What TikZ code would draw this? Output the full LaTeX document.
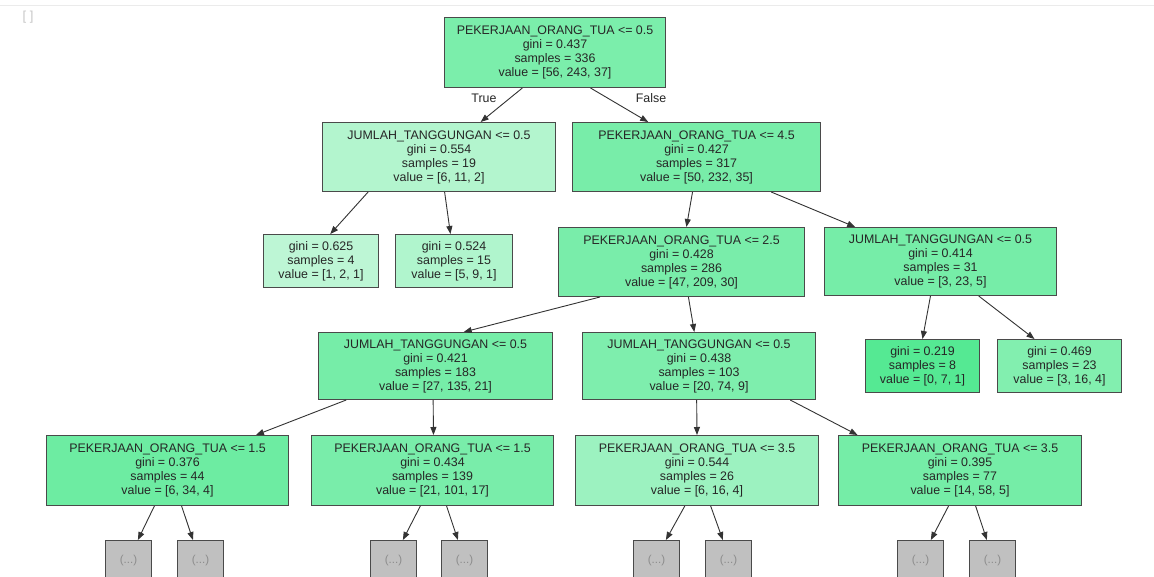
\documentclass[tikz,border=0pt]{standalone}
\usepackage{fontspec}
\setmainfont{Liberation Sans}
\usetikzlibrary{calc,arrows.meta}

% fill colours of the split nodes (class shade by purity)
\definecolor{nroot}{HTML}{7BEEAB}
\definecolor{nja}{HTML}{B3F5CE}
\definecolor{npb}{HTML}{78EDA9}
\definecolor{nla}{HTML}{BDF6D5}
\definecolor{nlb}{HTML}{B0F5CD}
\definecolor{npc}{HTML}{79EDAA}
\definecolor{njd}{HTML}{76EDA8}
\definecolor{nlc}{HTML}{55E993}
\definecolor{nld}{HTML}{82EFAF}
\definecolor{nje}{HTML}{76EDA8}
\definecolor{njf}{HTML}{7EEEAD}
\definecolor{npg}{HTML}{6DECA2}
\definecolor{nph}{HTML}{79EDAA}
\definecolor{npi}{HTML}{9CF2C0}
\definecolor{npj}{HTML}{75EDA7}
\definecolor{leafgray}{HTML}{C0C0C0}
\definecolor{framegray}{HTML}{4A4A4A}
\definecolor{linkgray}{HTML}{333333}
\definecolor{txt}{HTML}{262626}

\tikzset{
  split/.style={draw=framegray, line width=1pt, text=txt, align=center,
    inner sep=0pt, anchor=north west,
    font=\fontsize{12.4}{14}\selectfont},
  leafbox/.style={draw=framegray, line width=1pt, fill=leafgray,
    inner sep=0pt, anchor=north west, minimum width=46pt, minimum height=40pt,
    text=black!45, font=\fontsize{11.5}{13}\selectfont},
  link/.style={draw=linkgray, line width=0.9pt,
    -{Triangle[length=8pt,width=6pt]}},
  branchlabel/.style={text=txt, font=\fontsize{12.4}{14}\selectfont, inner sep=0pt}
}

% connector from the bottom side of #1 (fraction #2) to the top side of #3 (fraction #4)
\newcommand{\treelink}[4]{%
  \draw[link] ($(#1.south west)!#2!(#1.south east)$) -- ($(#3.north west)!#4!(#3.north east)$);}

\begin{document}
\begin{tikzpicture}[x=1pt,y=-1pt]
\useasboundingbox (0,0) rectangle (1154,576);
\fill[white] (0,0) rectangle (1154,576);

% notebook cell frame
\draw[black!8, line width=1pt] (0,5) -- (1154,5);
\node[text=black!22, font=\fontsize{13}{14}\selectfont, inner sep=0pt] (cellmark) at (28,17) {[ ]};

% depth 0
\node[split, fill=nroot, minimum width=221pt, minimum height=70pt] (root) at (444,17)
  {PEKERJAAN\_ORANG\_TUA <= 0.5\\gini = 0.437\\samples = 336\\value = [56, 243, 37]};

% depth 1
\node[split, fill=nja, minimum width=233pt, minimum height=69pt] (ja) at (322,122)
  {JUMLAH\_TANGGUNGAN <= 0.5\\gini = 0.554\\samples = 19\\value = [6, 11, 2]};
\node[split, fill=npb, minimum width=248pt, minimum height=69pt] (pb) at (572,122)
  {PEKERJAAN\_ORANG\_TUA <= 4.5\\gini = 0.427\\samples = 317\\value = [50, 232, 35]};

% depth 2
\node[split, fill=nla, minimum width=115pt, minimum height=53pt] (la) at (263,234)
  {gini = 0.625\\samples = 4\\value = [1, 2, 1]};
\node[split, fill=nlb, minimum width=117pt, minimum height=53pt] (lb) at (395,234)
  {gini = 0.524\\samples = 15\\value = [5, 9, 1]};
\node[split, fill=npc, minimum width=246pt, minimum height=69pt] (pc) at (558,227)
  {PEKERJAAN\_ORANG\_TUA <= 2.5\\gini = 0.428\\samples = 286\\value = [47, 209, 30]};
\node[split, fill=njd, minimum width=232pt, minimum height=68pt] (jd) at (824,227)
  {JUMLAH\_TANGGUNGAN <= 0.5\\gini = 0.414\\samples = 31\\value = [3, 23, 5]};

% depth 3
\node[split, fill=nje, minimum width=234pt, minimum height=67pt] (je) at (318,332)
  {JUMLAH\_TANGGUNGAN <= 0.5\\gini = 0.421\\samples = 183\\value = [27, 135, 21]};
\node[split, fill=njf, minimum width=233pt, minimum height=67pt] (jf) at (582,332)
  {JUMLAH\_TANGGUNGAN <= 0.5\\gini = 0.438\\samples = 103\\value = [20, 74, 9]};
\node[split, fill=nlc, minimum width=114pt, minimum height=53pt] (lc) at (865,339)
  {gini = 0.219\\samples = 8\\value = [0, 7, 1]};
\node[split, fill=nld, minimum width=124pt, minimum height=53pt] (ld) at (997,339)
  {gini = 0.469\\samples = 23\\value = [3, 16, 4]};

% depth 4
\node[split, fill=npg, minimum width=242pt, minimum height=70pt] (pg) at (46,435)
  {PEKERJAAN\_ORANG\_TUA <= 1.5\\gini = 0.376\\samples = 44\\value = [6, 34, 4]};
\node[split, fill=nph, minimum width=242pt, minimum height=70pt] (ph) at (311,435)
  {PEKERJAAN\_ORANG\_TUA <= 1.5\\gini = 0.434\\samples = 139\\value = [21, 101, 17]};
\node[split, fill=npi, minimum width=243pt, minimum height=70pt] (pi) at (575,435)
  {PEKERJAAN\_ORANG\_TUA <= 3.5\\gini = 0.544\\samples = 26\\value = [6, 16, 4]};
\node[split, fill=npj, minimum width=243pt, minimum height=70pt] (pj) at (838,435)
  {PEKERJAAN\_ORANG\_TUA <= 3.5\\gini = 0.395\\samples = 77\\value = [14, 58, 5]};

% truncated subtrees
\node[leafbox] (t1) at (105,540) {(...)};
\node[leafbox] (t2) at (177,540) {(...)};
\node[leafbox] (t3) at (370,540) {(...)};
\node[leafbox] (t4) at (441,540) {(...)};
\node[leafbox] (t5) at (633,540) {(...)};
\node[leafbox] (t6) at (705,540) {(...)};
\node[leafbox] (t7) at (897,540) {(...)};
\node[leafbox] (t8) at (969,540) {(...)};

% connectors
\treelink{root}{.353}{ja}{.678}
\treelink{root}{.66}{pb}{.306}
\treelink{ja}{.197}{la}{.58}
\treelink{ja}{.524}{lb}{.47}
\treelink{pb}{.484}{pc}{.52}
\treelink{pb}{.80}{jd}{.134}
\treelink{pc}{.17}{je}{.62}
\treelink{pc}{.528}{jf}{.48}
\treelink{jd}{.457}{lc}{.5}
\treelink{jd}{.664}{ld}{.3}
\treelink{je}{.12}{pg}{.864}
\treelink{je}{.49}{ph}{.504}
\treelink{jf}{.49}{pi}{.5}
\treelink{jf}{.89}{pj}{.08}
\treelink{pg}{.446}{t1}{.70}
\treelink{pg}{.558}{t2}{.34}
\treelink{ph}{.450}{t3}{.70}
\treelink{ph}{.558}{t4}{.36}
\treelink{pi}{.45}{t5}{.70}
\treelink{pi}{.556}{t6}{.38}
\treelink{pj}{.453}{t7}{.72}
\treelink{pj}{.564}{t8}{.38}

% branch labels
\node[branchlabel] (truelab) at (484,98) {True};
\node[branchlabel] (falselab) at (651,98) {False};
\end{tikzpicture}
\end{document}
